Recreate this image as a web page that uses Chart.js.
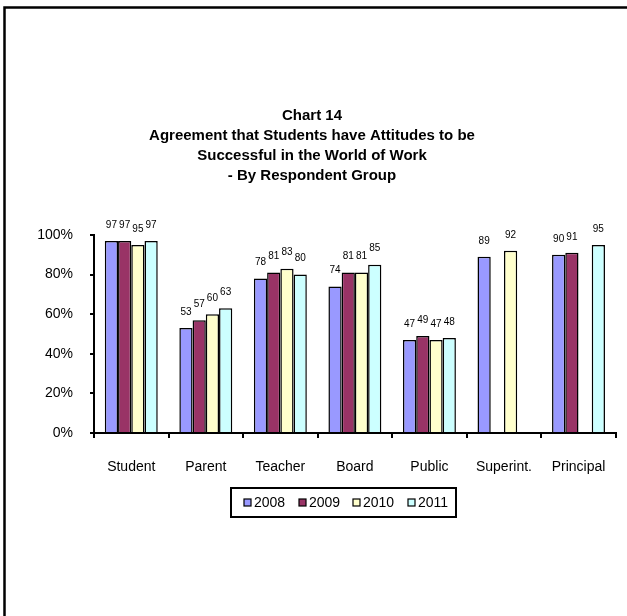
<!DOCTYPE html>
<html>
<head>
<meta charset="utf-8">
<script src="https://cdn.jsdelivr.net/npm/chart.js@4"></script>
<style>
  html, body { margin: 0; padding: 0; background: #fff; }
  #wrap { width: 627px; height: 616px; position: relative; }
</style>
</head>
<body>
<div id="wrap"><canvas id="mainChart" width="627" height="616"></canvas></div>
<script>
'use strict';

const groups = ['Student', 'Parent', 'Teacher', 'Board', 'Public', 'Superint.', 'Principal'];
const years  = ['2008', '2009', '2010', '2011'];
const v2008  = [97, 53, 78, 74, 47, 89, 90];
const v2009  = [97, 57, 81, 81, 49, null, 91];
const v2010  = [95, 60, 83, 81, 47, 92, null];
const v2011  = [97, 63, 80, 85, 48, null, 95];
const yTicks = [0, 20, 40, 60, 80, 100];
const titleLines = ['Chart 14', 'Agreement that Students have Attitudes to be',
                    'Successful in the World of Work', '- By Respondent Group'];

const FONT = '"Liberation Sans", Arial, sans-serif';
const fills = ['#9999FF', '#993366', '#FFFFCC', '#CCFFFF'];

// white page, the partial frame (top + left) and the 4-line title
const frameAndTitle = {
    id: 'frameAndTitle',
    beforeDraw(chart) {
        const { ctx, width, height } = chart;
        ctx.save();
        ctx.fillStyle = '#fff';
        ctx.fillRect(0, 0, width, height);
        ctx.strokeStyle = '#000';
        ctx.lineWidth = 2.5;
        ctx.beginPath(); ctx.moveTo(4.5, height); ctx.lineTo(4.5, 7.5); ctx.lineTo(width, 7.5); ctx.stroke();
        ctx.fillStyle = '#000';
        ctx.font = 'bold 15px ' + FONT;
        ctx.textAlign = 'center';
        ctx.textBaseline = 'middle';
        titleLines.forEach((t, i) => ctx.fillText(t, 312, 116 + i * 20));
        ctx.restore();
    },
};

const valueLabels = {
    id: 'valueLabels',
    afterDatasetsDraw(chart) {
        const { ctx } = chart;
        ctx.save();
        ctx.fillStyle = '#000';
        ctx.font = '10px ' + FONT;
        ctx.textAlign = 'center';
        ctx.textBaseline = 'middle';
        chart.data.datasets.forEach((ds, di) => {
            chart.getDatasetMeta(di).data.forEach((bar, i) => {
                if (ds.data[i] == null) return;
                ctx.fillText(String(ds.data[i]), bar.x, bar.y - 16);
            });
        });
        ctx.restore();
    },
};

const boxLegend = {
    id: 'boxLegend',
    afterDraw(chart) {
        const { ctx } = chart;
        ctx.save();
        ctx.strokeStyle = '#000';
        ctx.lineWidth = 2;
        ctx.strokeRect(231, 488, 225, 29);
        ctx.font = '14px ' + FONT;
        ctx.textBaseline = 'middle';
        ctx.textAlign = 'left';
        const xs = [244, 299, 353, 408];
        chart.data.datasets.forEach((ds, i) => {
            ctx.fillStyle = ds.backgroundColor;
            ctx.fillRect(xs[i], 499, 7, 7);
            ctx.lineWidth = 1.2;
            ctx.strokeRect(xs[i], 499, 7, 7);
            ctx.fillStyle = '#000';
            ctx.fillText(ds.label, xs[i] + 10, 503);
        });
        ctx.restore();
    },
};

const datasets = [v2008, v2009, v2010, v2011].map((vals, i) => ({
    label: years[i],
    data: vals,
    backgroundColor: fills[i],
    borderColor: '#000',
    borderWidth: 1.5,
    borderSkipped: 'bottom',
    categoryPercentage: 0.71,
    barPercentage: 1.0,
}));

new Chart(document.getElementById('mainChart').getContext('2d'), {
    type: 'bar',
    data: { labels: groups, datasets },
    options: {
        responsive: false,
        animation: false,
        layout: { padding: { top: 235, right: 9, left: 0, bottom: 0 } },
        plugins: { legend: { display: false }, title: { display: false }, tooltip: { enabled: false } },
        scales: {
            x: {
                grid: { display: true, drawOnChartArea: false, drawTicks: true, tickLength: 5, color: '#000', lineWidth: 2, offset: true },
                border: { color: '#000', width: 2 },
                ticks: { color: '#000', font: { family: FONT, size: 14 }, padding: 21, maxRotation: 0, autoSkip: false },
                afterFit(scale) { scale.height = 616 - 433; },
            },
            y: {
                min: 0, max: 100,
                afterBuildTicks(scale) { scale.ticks = yTicks.map(v => ({ value: v })); },
                grid: { display: true, drawOnChartArea: false, drawTicks: true, tickLength: 4, color: '#000', lineWidth: 2 },
                border: { color: '#000', width: 2 },
                ticks: { color: '#000', font: { family: FONT, size: 14 }, padding: 17, callback: v => v + '%' },
                afterFit(scale) { scale.width = 94; },
            },
        },
    },
    plugins: [frameAndTitle, valueLabels, boxLegend],
});
</script>
</body>
</html>
